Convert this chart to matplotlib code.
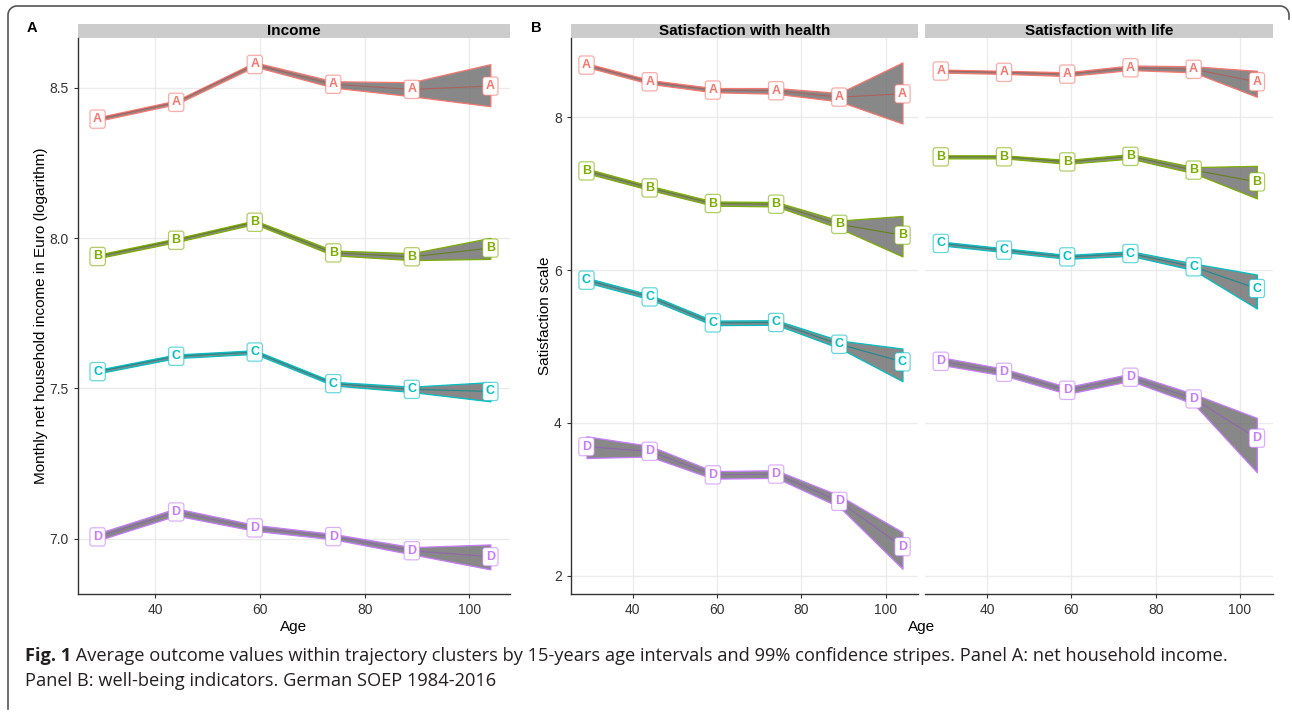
import numpy as np
import matplotlib
matplotlib.use("Agg")
import matplotlib.pyplot as plt
from matplotlib.patches import Rectangle
from matplotlib.colors import to_rgb

# -----------------------------
# Data
# -----------------------------
ages = [29, 44, 59, 74, 89, 104]
clusters = ["A", "B", "C", "D"]
cluster_colors = ["#F8766D", "#7CAE00", "#00BFC4", "#C77CFF"]

income_mean = [
    [8.396, 8.452, 8.578, 8.512, 8.495, 8.506],
    [7.939, 7.993, 8.053, 7.951, 7.938, 7.967],
    [7.556, 7.607, 7.621, 7.516, 7.497, 7.490],
    [7.006, 7.089, 7.036, 7.007, 6.960, 6.940],
]
income_lo = [
    [8.390, 8.446, 8.571, 8.501, 8.472, 8.439],
    [7.933, 7.987, 8.047, 7.943, 7.927, 7.931],
    [7.550, 7.601, 7.615, 7.510, 7.488, 7.457],
    [6.994, 7.077, 7.026, 6.998, 6.948, 6.898],
]
income_hi = [
    [8.402, 8.458, 8.585, 8.522, 8.519, 8.579],
    [7.945, 7.999, 8.059, 7.959, 7.950, 8.001],
    [7.562, 7.613, 7.627, 7.522, 7.506, 7.521],
    [7.018, 7.101, 7.046, 7.016, 6.972, 6.981],
]

health_mean = [
    [8.685, 8.467, 8.358, 8.349, 8.266, 8.309],
    [7.300, 7.077, 6.873, 6.864, 6.600, 6.458],
    [5.869, 5.650, 5.310, 5.315, 5.030, 4.800],
    [3.690, 3.628, 3.320, 3.330, 2.973, 2.380],
]
health_lo = [
    [8.660, 8.440, 8.330, 8.310, 8.210, 7.920],
    [7.270, 7.050, 6.845, 6.835, 6.550, 6.180],
    [5.840, 5.620, 5.280, 5.285, 4.980, 4.546],
    [3.540, 3.560, 3.270, 3.280, 2.900, 2.090],
]
health_hi = [
    [8.710, 8.490, 8.385, 8.385, 8.320, 8.720],
    [7.330, 7.105, 6.900, 6.893, 6.650, 6.710],
    [5.900, 5.680, 5.340, 5.345, 5.080, 4.974],
    [3.825, 3.700, 3.370, 3.380, 3.050, 2.570],
]

life_mean = [
    [8.607, 8.590, 8.567, 8.650, 8.630, 8.467],
    [7.484, 7.484, 7.418, 7.490, 7.310, 7.156],
    [6.350, 6.262, 6.174, 6.218, 6.044, 5.760],
    [4.807, 4.663, 4.427, 4.598, 4.314, 3.800],
]
life_lo = [
    [8.587, 8.570, 8.542, 8.620, 8.590, 8.270],
    [7.464, 7.464, 7.393, 7.460, 7.270, 6.940],
    [6.325, 6.237, 6.149, 6.188, 6.000, 5.498],
    [4.760, 4.620, 4.380, 4.550, 4.250, 3.353],
]
life_hi = [
    [8.627, 8.610, 8.592, 8.680, 8.670, 8.610],
    [7.504, 7.504, 7.443, 7.520, 7.350, 7.366],
    [6.375, 6.287, 6.199, 6.248, 6.088, 5.943],
    [4.860, 4.710, 4.470, 4.645, 4.380, 4.066],
]

income_ticks = [7.0, 7.5, 8.0, 8.5]
satis_ticks = [2, 4, 6, 8]
age_ticks = [40, 60, 80, 100]

# -----------------------------
# Style
# -----------------------------
W, H = 1292, 712
plt.rcParams["font.family"] = ["Liberation Sans", "DejaVu Sans"]
AXIS_COL = "#333333"
GRID_COL = "#ebebeb"
STRIP_COL = "#cccccc"
RIBBON_FILL = (0.42, 0.42, 0.42, 0.8)

fig = plt.figure(figsize=(W / 100, H / 100), dpi=100)


def px_axes(left, top, right, bottom):
    return fig.add_axes([left / W, 1 - bottom / H, (right - left) / W, (bottom - top) / H])


def darker(c, f=0.6):
    r, g, b = to_rgb(c)
    return (r * f + 0.25 * (1 - f), g * f + 0.25 * (1 - f), b * f + 0.25 * (1 - f))


def draw_facet(ax, means, los, his, ylim, yticks, ytick_fmt, title, show_y=True):
    ax.set_xlim(25.25, 107.75)
    ax.set_ylim(*ylim)
    ax.set_xticks(age_ticks)
    ax.set_yticks(yticks)
    ax.set_yticklabels([ytick_fmt.format(t) for t in yticks])
    ax.grid(True, color=GRID_COL, linewidth=1.0, zorder=0)
    ax.set_axisbelow(True)

    for i, letter in enumerate(clusters):
        c = cluster_colors[i]
        ax.fill_between(ages, los[i], his[i], facecolor=RIBBON_FILL, edgecolor=c,
                        linewidth=0.9, zorder=2)
        ax.plot(ages, means[i], color=darker(c), linewidth=0.8, zorder=3)
        for x, y in zip(ages, means[i]):
            ax.text(x, y, letter, ha="center", va="center", color=c, fontsize=9,
                    fontweight="bold", zorder=5,
                    bbox=dict(boxstyle="round,pad=0.25,rounding_size=0.2", facecolor="white",
                              edgecolor=c + "99", linewidth=0.9))

    for s in ["top", "right"]:
        ax.spines[s].set_visible(False)
    ax.spines["bottom"].set_color(AXIS_COL)
    ax.spines["left"].set_color(AXIS_COL)
    ax.spines["bottom"].set_linewidth(1.0)
    ax.spines["left"].set_linewidth(1.0)
    ax.tick_params(colors=AXIS_COL, labelcolor="#333333", labelsize=10, length=3, width=0.8)
    if not show_y:
        ax.spines["left"].set_visible(False)
        ax.tick_params(axis="y", left=False, labelleft=False)

    # facet strip
    h_px = ax.get_position().height * H
    strip_h = 14 / h_px
    ax.add_patch(Rectangle((0, 1), 1, strip_h, transform=ax.transAxes, facecolor=STRIP_COL,
                           edgecolor="none", clip_on=False, zorder=1))
    ax.text(0.5, 1 + strip_h / 2, title, transform=ax.transAxes, ha="center", va="center",
            fontsize=11, fontweight="bold", color="black")


# -----------------------------
# Panels
# -----------------------------
ax_inc = px_axes(78, 38, 510, 594)
draw_facet(ax_inc, income_mean, income_lo, income_hi, (6.816, 8.666), income_ticks,
           "{:.1f}", "Income")
ax_inc.set_ylabel("Monthly net household income in Euro (logarithm)", fontsize=11, labelpad=1)

ax_hea = px_axes(570.7, 38, 918.3, 594)
draw_facet(ax_hea, health_mean, health_lo, health_hi, (1.76, 9.04), satis_ticks,
           "{:d}", "Satisfaction with health")
ax_hea.set_ylabel("Satisfaction scale", fontsize=11, labelpad=1)

ax_lif = px_axes(925, 38, 1272.7, 594)
draw_facet(ax_lif, life_mean, life_lo, life_hi, (1.76, 9.04), satis_ticks,
           "{:d}", "Satisfaction with life", show_y=False)

fig.text(294 / W, 1 - 627 / H, "Age", ha="center", va="center", fontsize=11)
fig.text(921.7 / W, 1 - 627 / H, "Age", ha="center", va="center", fontsize=11)
fig.text(32 / W, 1 - 28 / H, "A", ha="center", va="center", fontsize=10.5, fontweight="bold")
fig.text(536 / W, 1 - 28 / H, "B", ha="center", va="center", fontsize=10.5, fontweight="bold")

# -----------------------------
# Frame (top + left border with rounded corners)
# -----------------------------
r = 9
t = np.linspace(0, np.pi / 2, 20)
left_x = 8
top_y = 6
right_x = 1289
xs = np.concatenate([[left_x], left_x + r - r * np.cos(t), right_x - r + r * np.sin(t), [right_x]])
ys = np.concatenate([[709], top_y + r - r * np.sin(t), top_y + r - r * np.cos(t), [top_y + r + 4]])
fig.add_artist(plt.Line2D(xs / W, 1 - ys / H, transform=fig.transFigure, color="#555555",
                          linewidth=1.2))

# -----------------------------
# Caption
# -----------------------------
cap_font = ["Open Sans", "DejaVu Sans"]
line1_rest = (" Average outcome values within trajectory clusters by 15-years age intervals and "
              "99% confidence stripes. Panel A: net household income.")
line2 = "Panel B: well-being indicators. German SOEP 1984-2016"
cap_size = 12.5
y1 = 1 - 661 / H
y2 = 1 - 686 / H
t1 = fig.text(25 / W, y1, "Fig. 1", fontsize=cap_size, fontweight="bold", family=cap_font,
              color="#231f20", va="baseline")
fig.canvas.draw()
rend = fig.canvas.get_renderer()
bb = t1.get_window_extent(rend)
t2 = fig.text(bb.x1 / W, y1, line1_rest, fontsize=cap_size, family=cap_font, color="#231f20",
              va="baseline")
bb2 = t2.get_window_extent(rend)
# squeeze to the width of the original caption line
scale = (1236 - 25) / (bb2.x1 - bb.x0)
cap_size *= scale
t1.set_fontsize(cap_size)
fig.canvas.draw()
bb = t1.get_window_extent(rend)
t2.set_fontsize(cap_size)
t2.set_x(bb.x1 / W)
fig.text(25 / W, y2, line2, fontsize=cap_size, family=cap_font, color="#231f20", va="baseline")

fig.savefig("out.png", dpi=100)
